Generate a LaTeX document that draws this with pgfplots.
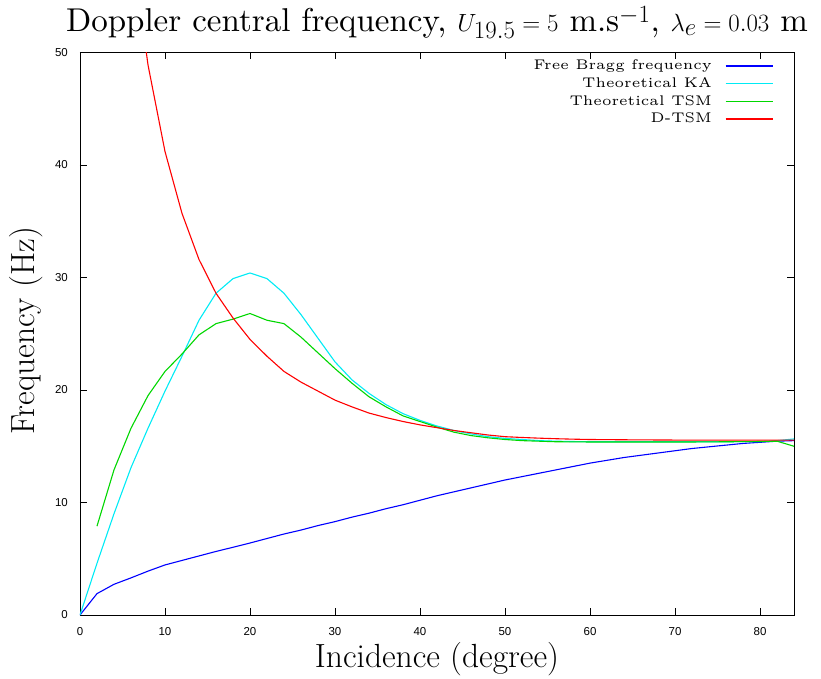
\documentclass[border=0pt]{standalone}
\usepackage{fontspec}
\usepackage{pgfplots}
\pgfplotsset{compat=1.18}
\newfontfamily\tickfont{Liberation Sans}
\newfontfamily\lmten{lmroman10-regular.otf}
\newfontfamily\lmfive{lmroman5-regular.otf}
\definecolor{cblue}{RGB}{0,0,255}
\definecolor{ccyan}{RGB}{0,235,245}
\definecolor{cgreen}{RGB}{0,215,0}
\definecolor{cred}{RGB}{255,0,0}
\begin{document}
\begin{tikzpicture}
\begin{axis}[
  scale only axis,
  width=714pt, height=562.5pt,
  xmin=0, xmax=84, ymin=0, ymax=50,
  xtick={0,10,...,80}, ytick={0,10,...,50},
  major tick length=7pt,
  axis line style={black, line width=0.8pt},
  every tick/.style={black, line width=0.8pt},
  /pgf/number format/assume math mode=true,
  tick label style={font=\tickfont\fontsize{11.5}{13}\selectfont, inner sep=0pt},
  xticklabel style={yshift=-12pt},
  yticklabel style={xshift=-12pt},
  title={Doppler central frequency, $U_{19.5}=5$ m.s$^{-1}$, $\lambda_e=0.03$ m},
  title style={at={(axis description cs:0.5,1)}, anchor=base, yshift=15pt, inner sep=0pt, font=\lmten\fontsize{33}{38}\selectfont},
  xlabel={Incidence (degree)},
  xlabel style={at={(axis description cs:0.5,0)}, anchor=base, yshift=-52pt, inner sep=0pt, font=\fontsize{33.5}{38}\selectfont},
  ylabel={Frequency (Hz)},
  ylabel style={at={(axis description cs:-0.064,0.505)}, anchor=base, inner sep=0pt, font=\fontsize{33.5}{38}\selectfont},
  every axis plot/.append style={line width=1.1pt},
  clip mode=individual,
]
\addplot[color=cblue] coordinates {
(0,0) (2,1.9) (4,2.73) (6,3.3) (8,3.9) (10,4.45) (12,4.85) (14,5.25) (16,5.65) (18,6.02)
(20,6.4) (22,6.8) (24,7.2) (26,7.55) (28,7.95) (30,8.3) (32,8.7) (34,9.05) (36,9.45) (38,9.8)
(40,10.2) (42,10.6) (44,10.95) (46,11.3) (48,11.65) (50,12.0) (52,12.3) (54,12.6) (56,12.9) (58,13.2)
(60,13.5) (62,13.75) (64,14.0) (66,14.2) (68,14.4) (70,14.6) (72,14.8) (74,14.95) (76,15.1) (78,15.25)
(80,15.35) (82,15.45) (84,15.5)};
\addplot[color=ccyan] coordinates {
(0,0) (2,4.6) (4,9.0) (6,13.1) (8,16.6) (10,19.9) (12,23.0) (14,26.2) (16,28.6) (18,29.9)
(20,30.4) (22,29.9) (24,28.6) (26,26.7) (28,24.6) (30,22.5) (32,20.9) (34,19.7) (36,18.7) (38,17.9)
(40,17.3) (42,16.8) (44,16.4) (46,16.1) (48,15.85) (50,15.7) (52,15.6) (54,15.5) (56,15.45) (58,15.42)
(60,15.4) (64,15.4) (68,15.4) (72,15.4) (76,15.4) (80,15.42) (82,15.5) (84,15.65)};
\addplot[color=cgreen] coordinates {
(2,7.9) (4,12.9) (6,16.6) (8,19.5) (10,21.65) (12,23.2) (14,24.9) (16,25.9) (18,26.3)
(20,26.8) (22,26.2) (24,25.9) (26,24.7) (28,23.3) (30,21.9) (32,20.6) (34,19.4) (36,18.5) (38,17.7)
(40,17.2) (42,16.7) (44,16.25) (46,15.95) (48,15.75) (50,15.6) (52,15.5) (54,15.45) (56,15.4) (60,15.38)
(64,15.38) (68,15.38) (72,15.38) (76,15.4) (80,15.42) (82,15.45) (84,15.0)};
\addplot[color=cred] coordinates {
(6,60) (8,48.9) (10,41.2) (12,35.7) (14,31.6) (16,28.6) (18,26.4)
(20,24.5) (22,23.0) (24,21.65) (26,20.7) (28,19.9) (30,19.1) (32,18.5) (34,17.95) (36,17.55) (38,17.2)
(40,16.9) (42,16.65) (44,16.4) (46,16.2) (48,16.0) (50,15.85) (52,15.78) (54,15.72) (56,15.67) (58,15.63)
(60,15.6) (65,15.57) (70,15.55) (75,15.55) (80,15.55) (84,15.55)};
\draw[cblue, line width=1.1pt] (axis description cs:0.9044,0.9760) -- (axis description cs:0.9702,0.9760);
\draw[ccyan, line width=1.1pt] (axis description cs:0.9044,0.9445) -- (axis description cs:0.9702,0.9445);
\draw[cgreen, line width=1.1pt] (axis description cs:0.9044,0.9132) -- (axis description cs:0.9702,0.9132);
\draw[cred, line width=1.1pt] (axis description cs:0.9044,0.8818) -- (axis description cs:0.9702,0.8818);
\node[anchor=base east, inner sep=0pt, font=\lmfive\fontsize{14}{16}\selectfont] at (axis description cs:0.8852,0.9689) {Free Bragg frequency};
\node[anchor=base east, inner sep=0pt, font=\lmfive\fontsize{14}{16}\selectfont] at (axis description cs:0.8852,0.9374) {Theoretical KA};
\node[anchor=base east, inner sep=0pt, font=\lmfive\fontsize{14}{16}\selectfont] at (axis description cs:0.8852,0.9061) {Theoretical TSM};
\node[anchor=base east, inner sep=0pt, font=\lmfive\fontsize{14}{16}\selectfont] at (axis description cs:0.8852,0.8747) {D-TSM};
\end{axis}
\pgfresetboundingbox
\path[use as bounding box] (-80pt,-63pt) rectangle (741pt,615pt);
\end{tikzpicture}
\end{document}
